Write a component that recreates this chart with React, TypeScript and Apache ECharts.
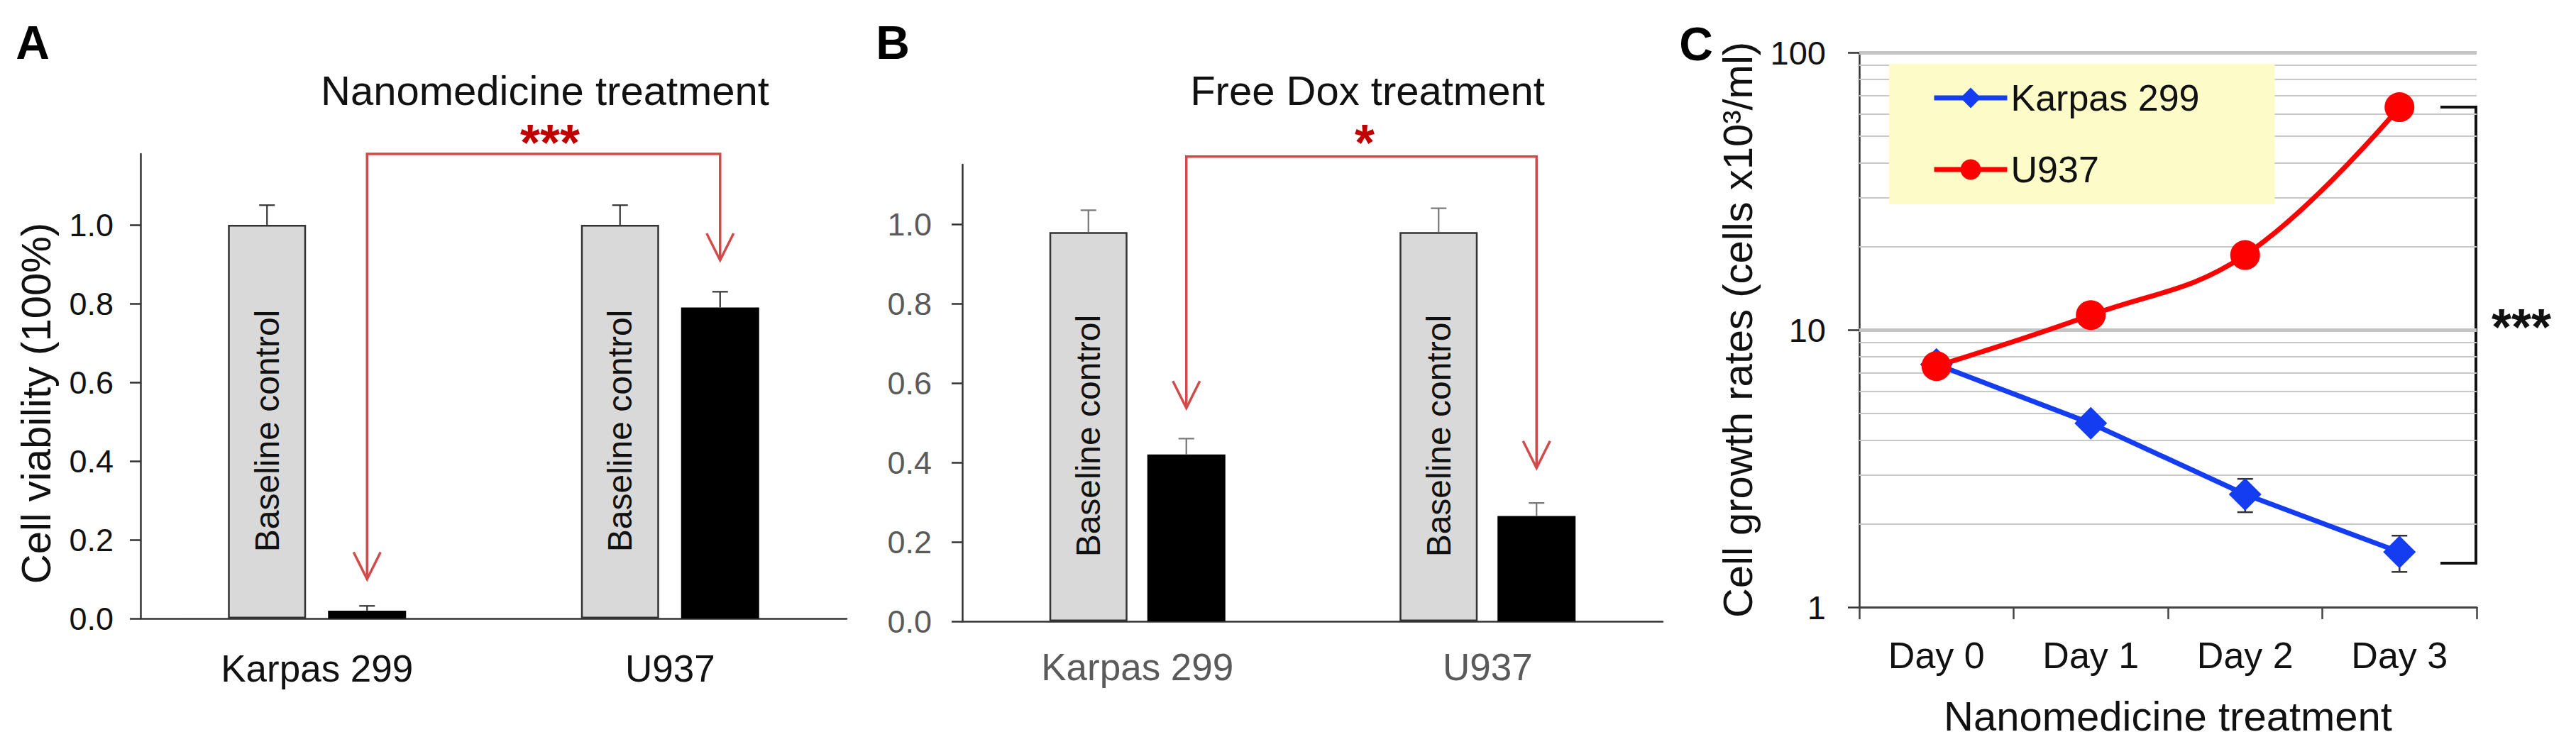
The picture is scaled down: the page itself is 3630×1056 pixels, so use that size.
import React, { useEffect, useRef } from 'react';
import * as echarts from 'echarts';

// ---------- data ----------
const barCategories = ['Karpas 299', 'U937'];
const viabilityTicks = [0, 0.2, 0.4, 0.6, 0.8, 1.0];

// Panel A – nanomedicine treatment
const nanoBaseline = [1.0, 1.0];
const nanoBaselineErr = [0.05, 0.05];
const nanoTreated = [0.02, 0.79];
const nanoTreatedErr = [0.012, 0.04];

// Panel B – free Dox treatment
const doxBaseline = [0.98, 0.98];
const doxBaselineErr = [0.055, 0.06];
const doxTreated = [0.42, 0.265];
const doxTreatedErr = [0.04, 0.033];

// Panel C – growth curves
const days = ['Day 0', 'Day 1', 'Day 2', 'Day 3'];
const karpasGrowth = [7.5, 4.6, 2.55, 1.58];
const karpasLow = [null, 4.35, 2.2, 1.34];
const karpasHigh = [null, 4.85, 2.9, 1.81];
const u937Growth = [7.4, 11.3, 18.6, 63.5];
const growthMajorGrid = [10, 100];
const growthMinorGrid = [2, 3, 4, 5, 6, 7, 8, 9, 20, 30, 40, 50, 60, 70, 80, 90];

// ---------- style / layout ----------
const FONT = '"Liberation Sans", Arial, Helvetica, sans-serif';
const BAR_W = 110;
const GAP_A = 31;
const GAP_B = 28;
const MAX_A = 1.18;
const MAX_B = 1.15;
const RED_LINE = '#d24b4b';
const STAR_RED = '#c00000';
const BLUE = '#143cf0';
const RED = '#ff0000';

function errorBarSeries(xAxisIndex: number, items: number[][], offsetUnit: number, color: string) {
  return {
    type: 'custom',
    xAxisIndex,
    yAxisIndex: xAxisIndex,
    z: 4,
    silent: true,
    data: items,
    renderItem: (params: any, api: any) => {
      const idx = api.value(0);
      const v = api.value(1);
      const e = api.value(2);
      const side = api.value(3);
      const base = api.coord([idx, v]);
      const top = api.coord([idx, v + e]);
      const x = base[0] + side * offsetUnit;
      return {
        type: 'group',
        children: [
          { type: 'line', shape: { x1: x, y1: base[1], x2: x, y2: top[1] }, style: { stroke: color, lineWidth: 2.2 } },
          { type: 'line', shape: { x1: x - 11, y1: top[1], x2: x + 11, y2: top[1] }, style: { stroke: color, lineWidth: 2.2 } },
        ],
      };
    },
  };
}

function barPair(axis: number, base: number[], treated: number[], gap: number) {
  const barGap = `${(gap / BAR_W) * 100}%`;
  return [
    {
      type: 'bar',
      name: 'Baseline control',
      xAxisIndex: axis,
      yAxisIndex: axis,
      data: base,
      barWidth: BAR_W,
      barGap,
      itemStyle: { color: '#d9d9d9', borderColor: '#333', borderWidth: 2.5 },
      label: {
        show: true,
        position: 'inside',
        rotate: 90,
        offset: [-13, 0],
        formatter: () => 'Baseline control',
        fontSize: 48,
        fontFamily: FONT,
        color: '#111',
      },
      z: 2,
    },
    {
      type: 'bar',
      name: 'Treated',
      xAxisIndex: axis,
      yAxisIndex: axis,
      data: treated,
      barWidth: BAR_W,
      barGap,
      itemStyle: { color: '#000' },
      z: 2,
    },
  ];
}

function viabilityY(gridIndex: number, max: number, labelColor: string, withName: boolean, margin: number) {
  const y: any = {
    type: 'value',
    gridIndex,
    min: 0,
    max,
    axisLine: { show: true, lineStyle: { color: '#333', width: 2.5 } },
    axisTick: { show: true, length: 15, customValues: viabilityTicks, lineStyle: { color: '#333', width: 2.5 } },
    axisLabel: {
      customValues: viabilityTicks,
      formatter: (v: number) => v.toFixed(1),
      fontSize: 45,
      fontFamily: FONT,
      color: labelColor,
      margin,
    },
    splitLine: { show: false },
  };
  if (withName) {
    y.name = 'Cell viability (100%)';
    y.nameLocation = 'middle';
    y.nameRotate = 90;
    y.nameGap = 119;
    y.nameTextStyle = { fontSize: 58, fontFamily: FONT, color: '#111', padding: [0, 48, 0, 0] };
  }
  return y;
}

function categoryX(gridIndex: number, labelColor: string, margin: number) {
  return {
    type: 'category',
    gridIndex,
    data: barCategories,
    axisLine: { show: true, lineStyle: { color: '#333', width: 2.5 } },
    axisTick: { show: false },
    axisLabel: { fontSize: 53, fontFamily: FONT, color: labelColor, margin },
  };
}

export default function App() {
  const ref = useRef<HTMLDivElement>(null);

  useEffect(() => {
    document.body.style.margin = '0';
    if (!ref.current) return;
    const chart = echarts.init(ref.current, undefined, { renderer: 'svg' });

    const errA = [
      ...nanoBaseline.map((v, i) => [i, v, nanoBaselineErr[i], -1]),
      ...nanoTreated.map((v, i) => [i, v, nanoTreatedErr[i], 1]),
    ];
    const errB = [
      ...doxBaseline.map((v, i) => [i, v, doxBaselineErr[i], -1]),
      ...doxTreated.map((v, i) => [i, v, doxTreatedErr[i], 1]),
    ];
    const errC: number[][] = [];
    karpasGrowth.forEach((_, i) => {
      if (karpasLow[i] != null && karpasHigh[i] != null) errC.push([i, karpasLow[i] as number, karpasHigh[i] as number]);
    });

    const option: any = {
      animation: false,
      backgroundColor: '#ffffff',
      textStyle: { fontFamily: FONT },
      grid: [
        { left: 198, top: 872 - MAX_A * 555, width: 995, height: MAX_A * 555 },
        { left: 1356, top: 876 - MAX_B * 560, width: 987, height: MAX_B * 560 },
        { left: 2620, top: 74, width: 870, height: 782 },
      ],
      xAxis: [
        categoryX(0, '#111', 44),
        categoryX(1, '#5a5a5a', 38),
        {
          type: 'category',
          gridIndex: 2,
          data: days,
          boundaryGap: true,
          axisLine: { show: true, lineStyle: { color: '#444', width: 3 } },
          axisTick: { show: true, length: 17, lineStyle: { color: '#444', width: 2.5 } },
          axisLabel: { fontSize: 52, fontFamily: FONT, color: '#111', margin: 42 },
          name: 'Nanomedicine treatment',
          nameLocation: 'middle',
          nameGap: 124,
          nameTextStyle: { fontSize: 58, fontFamily: FONT, color: '#111' },
        },
      ],
      yAxis: [
        viabilityY(0, MAX_A, '#111', true, 38),
        viabilityY(1, MAX_B, '#5a5a5a', false, 43),
        {
          type: 'log',
          gridIndex: 2,
          logBase: 10,
          min: 1,
          max: 100,
          axisLine: { show: true, lineStyle: { color: '#333', width: 2.5 } },
          axisTick: { show: true, length: 16, lineStyle: { color: '#333', width: 2.5 } },
          axisLabel: { fontSize: 47, fontFamily: FONT, color: '#111', margin: 47 },
          splitLine: { show: false },
          name: 'Cell growth rates (cells x10³/ml)',
          nameLocation: 'middle',
          nameRotate: 90,
          nameGap: 143,
          nameTextStyle: { fontSize: 58, fontFamily: FONT, color: '#111' },
        },
      ],
      legend: {
        data: ['Karpas 299', 'U937'],
        orient: 'vertical',
        left: 2662,
        top: 90,
        padding: [18, 106, 19, 60],
        backgroundColor: '#fdfcc9',
        itemWidth: 103,
        itemHeight: 36,
        itemGap: 41,
        selectedMode: false,
        lineStyle: { width: 7 },
        textStyle: { fontSize: 52, fontFamily: FONT, color: '#111', lineHeight: 60 },
      },
      series: [
        ...barPair(0, nanoBaseline, nanoTreated, GAP_A),
        ...barPair(1, doxBaseline, doxTreated, GAP_B),
        errorBarSeries(0, errA, (BAR_W + GAP_A) / 2, '#333'),
        errorBarSeries(1, errB, (BAR_W + GAP_B) / 2, '#777'),
        {
          type: 'line',
          name: 'gridlines',
          xAxisIndex: 2,
          yAxisIndex: 2,
          data: [null, null, null, null],
          showSymbol: false,
          silent: true,
          z: 1,
          markLine: {
            z: 1,
            silent: true,
            symbol: ['none', 'none'],
            label: { show: false },
            data: [
              ...growthMinorGrid.map((v) => ({ yAxis: v, lineStyle: { color: '#c8c8c8', width: 2, type: 'solid' } })),
              ...growthMajorGrid.map((v) => ({ yAxis: v, lineStyle: { color: '#c4c4c4', width: 5, type: 'solid' } })),
            ],
          },
        },
        {
          type: 'custom',
          name: 'karpas-err',
          xAxisIndex: 2,
          yAxisIndex: 2,
          z: 2,
          silent: true,
          data: errC,
          renderItem: (params: any, api: any) => {
            const lo = api.coord([api.value(0), api.value(1)]);
            const hi = api.coord([api.value(0), api.value(2)]);
            const x = lo[0];
            const st = { stroke: '#333', lineWidth: 2.5 };
            return {
              type: 'group',
              children: [
                { type: 'line', shape: { x1: x, y1: lo[1], x2: x, y2: hi[1] }, style: st },
                { type: 'line', shape: { x1: x - 11, y1: lo[1], x2: x + 11, y2: lo[1] }, style: st },
                { type: 'line', shape: { x1: x - 11, y1: hi[1], x2: x + 11, y2: hi[1] }, style: st },
              ],
            };
          },
        },
        {
          type: 'line',
          name: 'Karpas 299',
          xAxisIndex: 2,
          yAxisIndex: 2,
          data: karpasGrowth,
          symbol: 'diamond',
          symbolSize: 46,
          lineStyle: { color: BLUE, width: 7 },
          itemStyle: { color: BLUE },
          z: 3,
        },
        {
          type: 'line',
          name: 'U937',
          xAxisIndex: 2,
          yAxisIndex: 2,
          data: u937Growth,
          smooth: 0.4,
          symbol: 'circle',
          symbolSize: 42,
          lineStyle: { color: RED, width: 7 },
          itemStyle: { color: RED },
          z: 3,
        },
      ],
    };

    chart.setOption(option);

    // ----- annotations positioned through the axes -----
    const px = (grid: number, x: number, y: number) => chart.convertToPixel({ gridIndex: grid } as any, [x, y]) as number[];
    const arrow = (x: number, tipY: number, color: string) => ({
      type: 'polyline',
      shape: { points: [[x - 19, tipY - 38], [x, tipY], [x + 19, tipY - 38]] },
      style: { stroke: color, lineWidth: 3.5, fill: 'none' },
    });
    const bracket = (grid: number, gap: number, top: number, tipL: number, tipR: number) => {
      const off = (BAR_W + gap) / 2;
      const l = px(grid, 0, tipL);
      const r = px(grid, 1, tipR);
      const t = px(grid, 0, top)[1];
      const xL = l[0] + off;
      const xR = r[0] + off;
      return [
        {
          type: 'polyline',
          shape: { points: [[xL, l[1]], [xL, t], [xR, t], [xR, r[1]]] },
          style: { stroke: RED_LINE, lineWidth: 3.5, fill: 'none' },
        },
        arrow(xL, l[1], RED_LINE),
        arrow(xR, r[1], RED_LINE),
      ];
    };

    const cTop = px(2, 3, u937Growth[3])[1];
    const cBot = px(2, 3, 1.44)[1];
    const cRight = 2620 + 870 - 1;

    const txt = (x: number, y: number, text: string, size: number, extra: any = {}) => ({
      type: 'text',
      x,
      y,
      style: {
        text,
        fontSize: size,
        fontFamily: FONT,
        fill: '#111',
        align: 'center',
        verticalAlign: 'middle',
        ...extra,
      },
    });

    chart.setOption({
      graphic: [
        ...bracket(0, GAP_A, 1.18, 0.1, 0.91),
        ...bracket(1, GAP_B, 1.17, 0.537, 0.386),
        {
          type: 'polyline',
          shape: { points: [[cRight - 50, cTop], [cRight, cTop], [cRight, cBot], [cRight - 50, cBot]] },
          style: { stroke: '#111', lineWidth: 4, fill: 'none' },
        },
        txt(46, 60, 'A', 66, { fontWeight: 'bold', fill: '#000' }),
        txt(1258, 60, 'B', 66, { fontWeight: 'bold', fill: '#000' }),
        txt(2390, 62, 'C', 66, { fontWeight: 'bold', fill: '#000' }),
        txt(768, 127, 'Nanomedicine treatment', 58),
        txt(1927, 127, 'Free Dox treatment', 58),
        txt(775, 201, '***', 72, { fontWeight: 'bold', fill: STAR_RED }),
        txt(1923, 201, '*', 72, { fontWeight: 'bold', fill: STAR_RED }),
        txt(3553, 461, '***', 72, { fontWeight: 'bold', fill: '#111' }),
      ],
    });

    return () => {
      chart.dispose();
    };
  }, []);

  return (
    <div
      ref={ref}
      style={{ position: 'absolute', left: 0, top: 0, width: 3630, height: 1056, background: '#fff' }}
    />
  );
}
